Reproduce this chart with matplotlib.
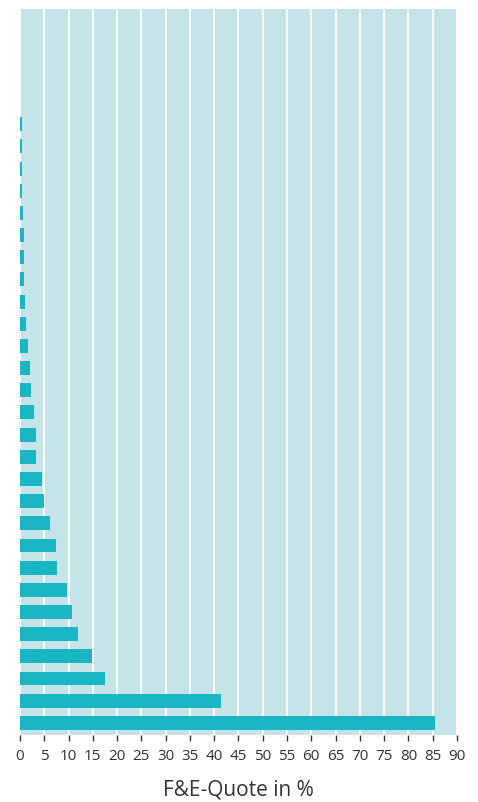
import matplotlib.pyplot as plt
import numpy as np

# F&E-Quote values, bottom bar first
quote = [85.4, 41.4, 17.5, 14.8, 11.9, 10.7, 9.7, 7.6, 7.4, 6.2,
         4.9, 4.5, 3.3, 3.3, 2.9, 2.3, 2.1, 1.65, 1.25, 1.05,
         0.82, 0.82, 0.82, 0.62, 0.42, 0.42, 0.42, 0.42]
xticks = list(range(0, 95, 5))

bar_color = '#1bb6c4'
bg_color = '#c5e4ea'

plt.rcParams['font.family'] = ['Open Sans', 'DejaVu Sans']

fig = plt.figure(figsize=(4.78, 8.02), dpi=100)
ax = fig.add_axes([0.0397, 0.0835, 0.9163, 0.9053])
ax.set_facecolor(bg_color)

pos = np.arange(len(quote))
ax.barh(pos, quote, height=0.63, color=bar_color, zorder=3)

ax.set_xlim(-0.2, 90)
ax.set_ylim(-0.55, 32.2)
ax.set_xticks(xticks)
ax.set_xticklabels([str(t) for t in xticks], fontsize=11, color='#333333')
ax.set_yticks([])
ax.xaxis.grid(True, color='white', linewidth=1.4, zorder=1)
ax.set_axisbelow(True)
for s in ax.spines.values():
    s.set_visible(False)
ax.tick_params(axis='x', direction='out', length=4, width=1, color='#333333', pad=6)

ax.set_xlabel('F&E-Quote in %', fontsize=15, color='#333333', labelpad=11)

plt.savefig('out.png', dpi=100)
